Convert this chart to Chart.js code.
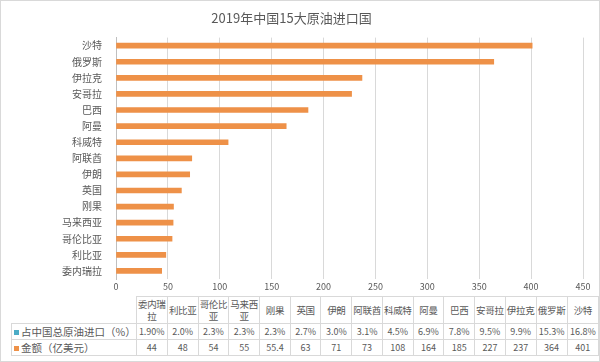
<!DOCTYPE html>
<html>
<head>
<meta charset="utf-8">
<script src="https://cdn.jsdelivr.net/npm/chart.js@4"></script>
<style>
  html, body { margin: 0; padding: 0; background: #fff; }
  #wrap { position: relative; width: 598px; height: 360px; border: 1px solid #d9d9d9; background: #fff; overflow: hidden; }
  #chart { position: absolute; left: -1px; top: -1px; }
  #tbl { position: absolute; left: 10px; top: 295px; border-collapse: collapse; table-layout: fixed;
         font-family: "Noto Sans CJK SC", "Noto Sans", sans-serif; color: #595959; }
  #tbl td { border: 1px solid #d9d9d9; text-align: center; padding: 0; font-size: 9px; height: 15px; line-height: 11px; }
  #tbl tr.head td { font-size: 9.5px; height: 26px; line-height: 12px; letter-spacing: -0.3px; }
  #tbl tr.head td.blank { border: none; }
  #tbl td.rowlab { text-align: left; font-size: 10.5px; padding-left: 2px; white-space: nowrap; }
  .key { display: inline-block; width: 5px; height: 5px; margin-right: 2px; vertical-align: middle; position: relative; top: -1px; }
</style>
</head>
<body>
<div id="wrap">
  <canvas id="chart" width="600" height="295"></canvas>
  <table id="tbl"></table>
</div>
<script>
const countries = ['委内瑞拉', '利比亚', '哥伦比亚', '马来西亚', '刚果', '英国', '伊朗', '阿联酋', '科威特', '阿曼', '巴西', '安哥拉', '伊拉克', '俄罗斯', '沙特'];
const shares = ['1.90%', '2.0%', '2.3%', '2.3%', '2.3%', '2.7%', '3.0%', '3.1%', '4.5%', '6.9%', '7.8%', '9.5%', '9.9%', '15.3%', '16.8%'];
const amounts = [44, 48, 54, 55, 55.4, 63, 71, 73, 108, 164, 185, 227, 237, 364, 401];
const xTicks = [0, 50, 100, 150, 200, 250, 300, 350, 400, 450];

const barColor = '#ee9148';
const shareColor = '#4bacc6';
const textColor = '#595959';
const cjk = '"Noto Sans CJK SC", "Noto Sans", sans-serif';

const ctx = document.getElementById('chart').getContext('2d');
new Chart(ctx, {
  type: 'bar',
  data: {
    labels: countries,
    datasets: [{
      label: '金额（亿美元）',
      data: amounts,
      backgroundColor: barColor,
      barThickness: 5,
    }],
  },
  options: {
    indexAxis: 'y',
    responsive: false,
    animation: false,
    layout: { padding: { left: 0, right: 17, top: 0, bottom: 0 } },
    plugins: {
      legend: { display: false },
      tooltip: { enabled: false },
      title: {
        display: true,
        text: '2019年中国15大原油进口国',
        color: textColor,
        font: { family: cjk, size: 13, weight: 'normal' },
        padding: { top: 10, bottom: 12 },
      },
    },
    scales: {
      x: {
        min: xTicks[0],
        max: xTicks[xTicks.length - 1],
        afterBuildTicks: (s) => { s.ticks = xTicks.map((v) => ({ value: v })); },
        ticks: { color: textColor, font: { family: cjk, size: 9 }, padding: 2 },
        grid: { color: '#d9d9d9', drawTicks: false },
        border: { display: false },
        afterFit: (s) => { s.height = 16; },
      },
      y: {
        reverse: true,
        ticks: { color: textColor, font: { family: cjk, size: 10 }, padding: 6 },
        grid: { display: false },
        border: { color: '#bfbfbf' },
        afterFit: (s) => { s.width = 116; },
      },
    },
  },
});

// data table under the chart
const tbl = document.getElementById('tbl');
let html = '<colgroup><col style="width:105px">' + countries.map(() => '<col style="width:31.7px">').join('') + '</colgroup>';
html += '<tr class="head"><td class="blank"></td>' + countries.map((c) => '<td>' + c + '</td>').join('') + '</tr>';
html += '<tr><td class="rowlab"><span class="key" style="background:' + shareColor + '"></span>占中国总原油进口（%）</td>' + shares.map((v) => '<td>' + v + '</td>').join('') + '</tr>';
html += '<tr><td class="rowlab"><span class="key" style="background:' + barColor + '"></span>金额（亿美元）</td>' + amounts.map((v) => '<td>' + v + '</td>').join('') + '</tr>';
tbl.innerHTML = html;
</script>
</body>
</html>
